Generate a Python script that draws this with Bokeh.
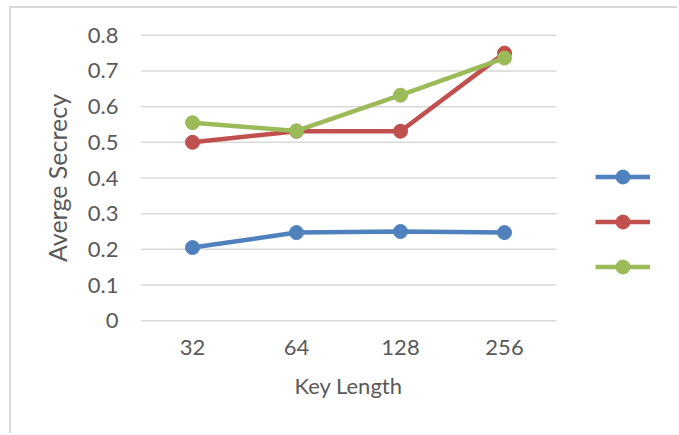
from bokeh.plotting import figure
from bokeh.models import Range1d, FixedTicker, Legend, LegendItem, Title
from bokeh.embed import file_html
from bokeh.resources import INLINE

# Data
key_lengths = ["32", "64", "128", "256"]
series_blue = [0.205, 0.247, 0.250, 0.247]
series_red = [0.500, 0.531, 0.531, 0.750]
series_green = [0.555, 0.532, 0.632, 0.736]

y_ticks = [0, 0.1, 0.2, 0.3, 0.4, 0.5, 0.6, 0.7, 0.8]
y_tick_labels = ["0", "0.1", "0.2", "0.3", "0.4", "0.5", "0.6", "0.7", "0.8"]

colors = ["#4F81BD", "#C0504D", "#9BBB59"]
FONT = "Lato"
TEXT_COLOR = "#595959"
GRID_COLOR = "#d9d9d9"

# Categories sit at the centres of unit-wide slots; the plotting area
# continues to the right of the last slot to leave room for the legend
n_cat = len(key_lengths)
x_pos = [i + 0.5 for i in range(n_cat)]
CAT_PX = 104                     # pixel width of one category slot
LEGEND_PX = 123                  # extra room on the right
x_end = n_cat + LEGEND_PX / CAT_PX

# The chart sits inside a light grey frame offset from the page corner
OFF_X, OFF_Y, BW = 9, 6, 2

p = figure(
    width=679 - OFF_X - BW, height=435 - OFF_Y - BW,
    x_range=Range1d(0, x_end),
    y_range=Range1d(-0.005, 0.805),
    output_backend="svg", toolbar_location=None,
    min_border_left=140 - OFF_X - BW, min_border_right=0,
    min_border_top=33 - OFF_Y - BW, min_border_bottom=113,
    y_axis_label="Averge Secrecy",
)
p.styles = {
    "margin-left": f"{OFF_X}px",
    "margin-top": f"{OFF_Y}px",
    "border-left": f"{BW}px solid {GRID_COLOR}",
    "border-top": f"{BW}px solid {GRID_COLOR}",
}
p.outline_line_color = None
p.background_fill_color = "white"
p.border_fill_color = "white"

# Axes
for ax in (p.xaxis[0], p.yaxis[0]):
    ax.axis_line_color = None
    ax.major_tick_line_color = None
    ax.minor_tick_line_color = None
    ax.major_tick_out = 0
    ax.major_tick_in = 0
    ax.major_label_text_font = FONT
    ax.major_label_text_font_size = "22px"
    ax.major_label_text_color = TEXT_COLOR
    ax.axis_label_text_font = FONT
    ax.axis_label_text_color = TEXT_COLOR
    ax.axis_label_text_font_style = "normal"

p.yaxis.axis_label_text_font_size = "25px"

p.xaxis.ticker = FixedTicker(ticks=x_pos)
p.xaxis.major_label_overrides = dict(zip(x_pos, key_lengths))
p.yaxis.ticker = FixedTicker(ticks=y_ticks)
p.yaxis.major_label_overrides = dict(zip(y_ticks, y_tick_labels))
p.yaxis.major_label_standoff = 22
p.yaxis.axis_label_standoff = 13
p.xaxis.major_label_standoff = 17

# X-axis title, centred under the category slots
x_title = Title(text="Key Length", align="left", offset=154, standoff=25,
                text_font=FONT, text_font_size="22px", text_font_style="normal",
                text_color=TEXT_COLOR)
p.add_layout(x_title, "below")

# Horizontal gridlines only across the category slots
p.xgrid.grid_line_color = None
p.ygrid.grid_line_color = None
p.segment(x0=[0] * len(y_ticks), x1=[n_cat] * len(y_ticks),
          y0=y_ticks, y1=y_ticks, line_color=GRID_COLOR, line_width=1.5)

# Series
items = []
for vals, c in zip([series_blue, series_red, series_green], colors):
    ln = p.line(x_pos, vals, line_color=c, line_width=4.5)
    mk = p.scatter(x_pos, vals, size=14, fill_color=c, line_color=c)
    items.append(LegendItem(label=" ", renderers=[ln, mk]))

legend = Legend(items=items, location=(455, 38), orientation="vertical",
                glyph_width=55, glyph_height=35, spacing=10,
                padding=0, margin=0, label_standoff=0, label_width=0,
                border_line_color=None, background_fill_alpha=0,
                label_text_font_size="1px")
p.add_layout(legend, "center")

open("out.html", "w").write(file_html(p, INLINE))
